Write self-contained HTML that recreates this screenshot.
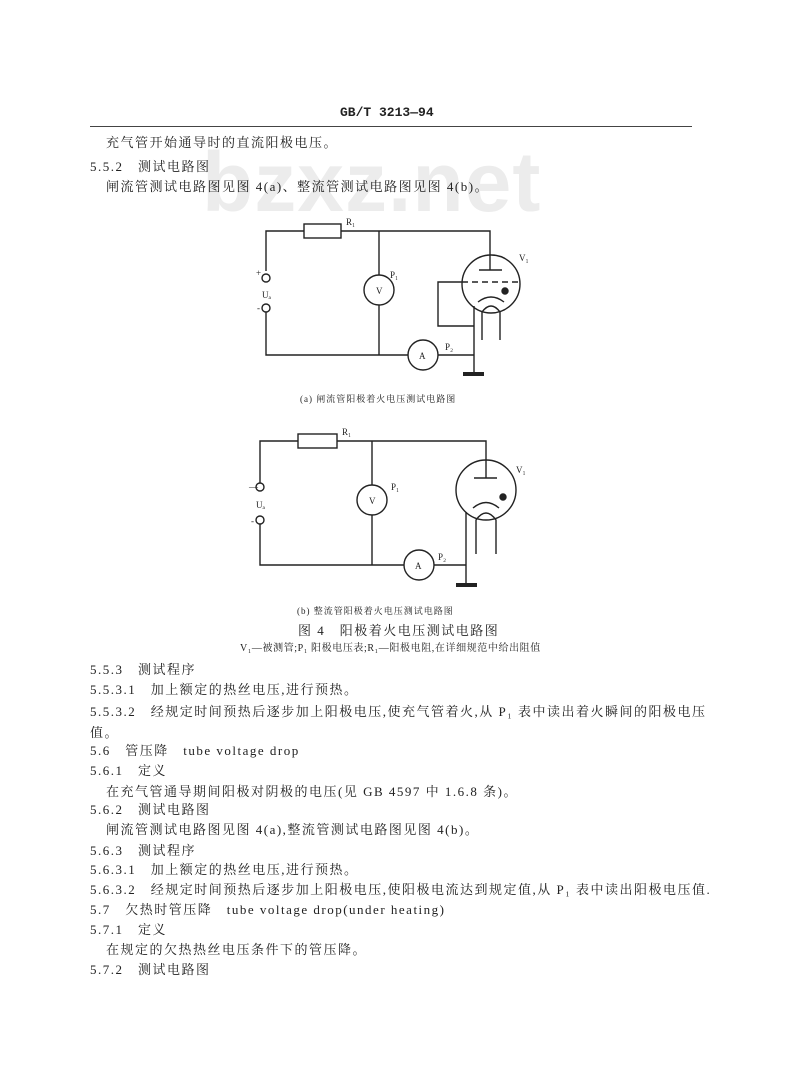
<!DOCTYPE html>
<html><head><meta charset="utf-8"><style>
body{margin:0;width:800px;height:1091px;background:#fff;position:relative;overflow:hidden;font-family:"Liberation Serif","Noto Serif CJK SC",serif;color:#222}
.t{position:absolute;font-size:13px;line-height:16px;white-space:nowrap;letter-spacing:1.5px}
.s{position:absolute;font-size:9px;line-height:10px;white-space:nowrap}
</style></head><body>
<div class="t" style="left:340px;top:105px;font-weight:bold;font-family:'Liberation Mono',monospace;font-size:13px;letter-spacing:0">GB/T 3213—94</div>
<div style="position:absolute;left:90px;top:126px;width:602px;height:1px;background:#444"></div>
<div style="position:absolute;left:202px;top:134px;font:bold 84px 'Liberation Sans',sans-serif;color:#ececec;letter-spacing:1px">bzxz.net</div>
<div class="t" style="left:106px;top:135px">充气管开始通导时的直流阳极电压。</div>
<div class="t" style="left:90px;top:159px">5.5.2　测试电路图</div>
<div class="t" style="left:106px;top:179px">闸流管测试电路图见图 4(a)、整流管测试电路图见图 4(b)。</div>

<svg style="position:absolute;left:0;top:0" width="800" height="1091" fill="none" stroke="#222" stroke-width="1.4">
<polyline points="266,271 266,231 304,231"/>
<rect x="304" y="224" width="37" height="14"/>
<polyline points="341,231 490,231 490,270"/>
<line x1="479" y1="270" x2="502" y2="270"/>
<circle cx="491" cy="284" r="29"/>
<line x1="462" y1="282" x2="520" y2="282" stroke-dasharray="6,4"/>
<polyline points="462,282 438,282 438,326 474,326"/>
<circle cx="505" cy="291" r="3" fill="#222"/>
<path d="M478,302 Q491,292 504,302"/>
<path d="M482,340 L482,312 Q491,300 500,312 L500,340"/>
<line x1="474" y1="306" x2="474" y2="373"/>
<circle cx="266" cy="278" r="4"/><circle cx="266" cy="308" r="4"/>
<polyline points="266,312 266,355 408,355"/>
<line x1="379" y1="231" x2="379" y2="275"/>
<circle cx="379" cy="290" r="15"/>
<line x1="379" y1="305" x2="379" y2="355"/>
<circle cx="423" cy="355" r="15"/>
<line x1="438" y1="355" x2="474" y2="355"/>
<line x1="463" y1="374" x2="484" y2="374" stroke-width="4"/>
<polyline points="260,483 260,441 298,441"/>
<rect x="298" y="434" width="39" height="14"/>
<polyline points="337,441 486,441 486,478"/>
<line x1="474" y1="478" x2="497" y2="478"/>
<circle cx="486" cy="490" r="30"/>
<circle cx="503" cy="497" r="3" fill="#222"/>
<path d="M473,508 Q486,497 499,508"/>
<path d="M476,554 L476,520 Q486,506 496,520 L496,554"/>
<line x1="466" y1="512" x2="466" y2="584"/>
<circle cx="260" cy="487" r="4"/><circle cx="260" cy="520" r="4"/>
<polyline points="260,524 260,565 404,565"/>
<line x1="372" y1="441" x2="372" y2="485"/>
<circle cx="372" cy="500" r="15"/>
<line x1="372" y1="515" x2="372" y2="565"/>
<circle cx="419" cy="565" r="15"/>
<line x1="434" y1="565" x2="466" y2="565"/>
<line x1="456" y1="585" x2="477" y2="585" stroke-width="4"/>
</svg>
<div class="s" style="left:346px;top:217px">R₁</div>
<div class="s" style="left:519px;top:253px">V₁</div>
<div class="s" style="left:256px;top:268px">+</div>
<div class="s" style="left:262px;top:290px">Uₐ</div>
<div class="s" style="left:257px;top:303px">-</div>
<div class="s" style="left:390px;top:270px">P₁</div>
<div class="s" style="left:376px;top:286px">V</div>
<div class="s" style="left:419px;top:351px">A</div>
<div class="s" style="left:445px;top:342px">P₂</div>
<div class="s" style="left:300px;top:394px;letter-spacing:1px">(a) 闸流管阳极着火电压测试电路图</div>
<div class="s" style="left:342px;top:427px">R₁</div>
<div class="s" style="left:516px;top:465px">V₁</div>
<div class="s" style="left:249px;top:482px">—</div>
<div class="s" style="left:256px;top:500px">Uₐ</div>
<div class="s" style="left:251px;top:516px">-</div>
<div class="s" style="left:391px;top:482px">P₁</div>
<div class="s" style="left:369px;top:496px">V</div>
<div class="s" style="left:415px;top:561px">A</div>
<div class="s" style="left:438px;top:552px">P₂</div>
<div class="s" style="left:297px;top:606px;letter-spacing:1px">(b) 整流管阳极着火电压测试电路图</div>
<div class="t" style="left:298px;top:623px">图 4　阳极着火电压测试电路图</div>
<div class="s" style="left:240px;top:644px;font-size:10px;letter-spacing:0.6px">V₁—被测管;P₁ 阳极电压表;R₁—阳极电阻,在详细规范中给出阻值</div>

<div class="t" style="left:90px;top:662px">5.5.3　测试程序</div>
<div class="t" style="left:90px;top:682px">5.5.3.1　加上额定的热丝电压,进行预热。</div>
<div class="t" style="left:90px;top:704px">5.5.3.2　经规定时间预热后逐步加上阳极电压,使充气管着火,从 P₁ 表中读出着火瞬间的阳极电压</div>
<div class="t" style="left:90px;top:725px">值。</div>
<div class="t" style="left:90px;top:743px">5.6　管压降　tube voltage drop</div>
<div class="t" style="left:90px;top:763px">5.6.1　定义</div>
<div class="t" style="left:106px;top:784px">在充气管通导期间阳极对阴极的电压(见 GB 4597 中 1.6.8 条)。</div>
<div class="t" style="left:90px;top:802px">5.6.2　测试电路图</div>
<div class="t" style="left:106px;top:822px">闸流管测试电路图见图 4(a),整流管测试电路图见图 4(b)。</div>
<div class="t" style="left:90px;top:843px">5.6.3　测试程序</div>
<div class="t" style="left:90px;top:862px">5.6.3.1　加上额定的热丝电压,进行预热。</div>
<div class="t" style="left:90px;top:882px">5.6.3.2　经规定时间预热后逐步加上阳极电压,使阳极电流达到规定值,从 P₁ 表中读出阳极电压值.</div>
<div class="t" style="left:90px;top:902px">5.7　欠热时管压降　tube voltage drop(under heating)</div>
<div class="t" style="left:90px;top:922px">5.7.1　定义</div>
<div class="t" style="left:106px;top:942px">在规定的欠热热丝电压条件下的管压降。</div>
<div class="t" style="left:90px;top:962px">5.7.2　测试电路图</div>
</body></html>
